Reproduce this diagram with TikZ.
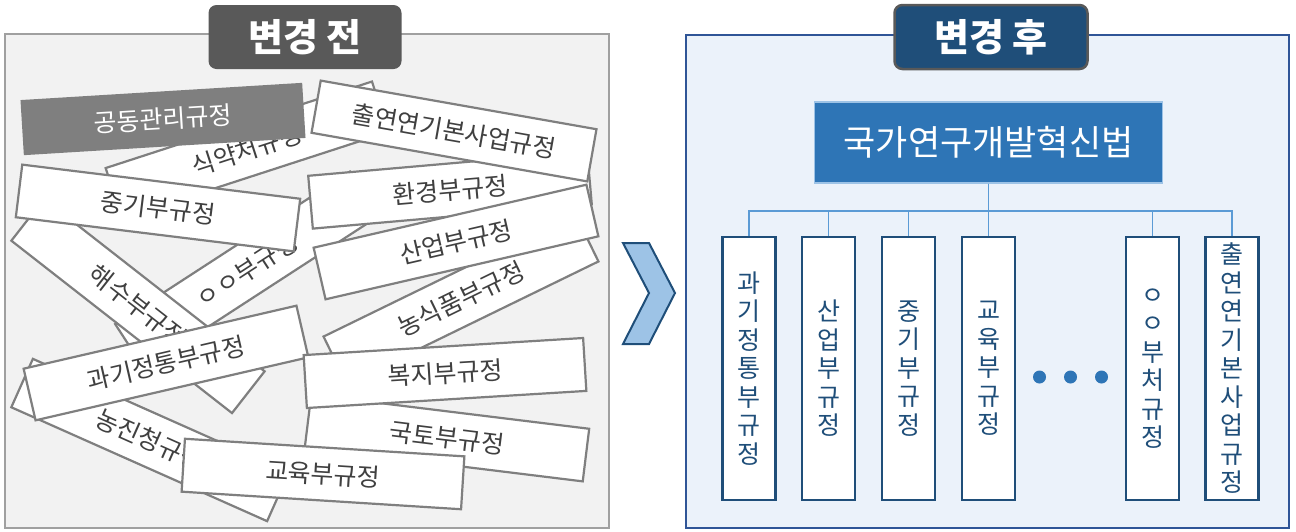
\documentclass[tikz,border=0pt]{standalone}
\usepackage{fontspec}
\setmainfont{Noto Sans CJK KR}
\definecolor{panelgray}{RGB}{242,242,242}
\definecolor{panelline}{RGB}{160,160,160}
\definecolor{pileline}{RGB}{127,127,127}
\definecolor{piletext}{RGB}{64,64,64}
\definecolor{titlegray}{RGB}{89,89,89}
\definecolor{titleblue}{RGB}{31,78,121}
\definecolor{panelblue}{RGB}{235,242,250}
\definecolor{frameblue}{RGB}{47,85,151}
\definecolor{lawblue}{RGB}{46,117,182}
\definecolor{linkblue}{RGB}{91,155,213}
\definecolor{chevblue}{RGB}{157,195,230}

\begin{document}
\begin{tikzpicture}[x=1pt, y=-1pt,
    pilebox/.style={draw=pileline, line width=2.2pt, fill=white, text=piletext, minimum width=280pt, minimum height=53pt, inner sep=0pt, font=\fontsize{25}{29}\selectfont},
    regbox/.style={draw=titleblue, line width=2.5pt, fill=white, text=titleblue, minimum width=53pt, minimum height=263pt, inner sep=0pt, align=center, font=\fontsize{25}{28.5}\selectfont},
    titlebox/.style={rounded corners=8pt, minimum width=193pt, minimum height=64pt, text=white, font=\fontsize{38}{42}\selectfont\bfseries},
    link/.style={linkblue, line width=1.5pt}]
  \useasboundingbox (0,0) rectangle (1296,531);

  % before: a pile of regulations
  \draw[panelline, fill=panelgray, line width=2.5pt] (5,34) rectangle (609,528);
  \node[pilebox, rotate=33] (pre-bucheo) at (247,270) {ㅇㅇ부규정};
  \node[pilebox, rotate=18] (pre-sikyak) at (247,150) {식약처규정};
  \node[pilebox, rotate=26] (pre-nongsik) at (461,299) {농식품부규정};
  \node[pilebox, rotate=-7] (pre-gukto) at (447,438) {국토부규정};
  \node[pilebox, rotate=-24] (pre-nongjin) at (150,440) {농진청규정};
  \node[pilebox, rotate=-38] (pre-haesu) at (138,306) {해수부규정};
  \node[pilebox, rotate=3.5, fill=pileline, text=white] (pre-gongdong) at (163,119) {공동관리규정};
  \node[pilebox, rotate=-7] (pre-junggi) at (158,208) {중기부규정};
  \node[pilebox, rotate=5] (pre-hwangyeong) at (450,190) {환경부규정};
  \node[pilebox, rotate=-10] (pre-chulyeon) at (454,131) {출연연기본사업규정};
  \node[pilebox, rotate=13] (pre-saneop) at (456,242) {산업부규정};
  \node[pilebox, rotate=13] (pre-gwagi) at (166,363) {과기정통부규정};
  \node[pilebox, rotate=3.5] (pre-bokji) at (445,373) {복지부규정};
  \node[pilebox, rotate=-3.6] (pre-gyoyuk) at (323,474) {교육부규정};
  \node[titlebox, fill=titlegray] (pre-title) at (305,37) {변경 전};

  % chevron
  \draw[titleblue, fill=chevblue, line width=2pt] (623,243) -- (649,243) -- (675,293) -- (649,344) -- (623,344) -- (649,293) -- cycle;

  % after: one act
  \draw[frameblue, fill=panelblue, line width=2pt] (686,35) rectangle (1289,528);
  \node[titlebox, fill=titleblue, draw=titlegray, line width=2.5pt] (post-title) at (991,37) {변경 후};
  \node[draw=chevblue, line width=1.5pt, fill=lawblue, text=white, minimum width=348pt, minimum height=81pt, font=\fontsize{35}{40}\selectfont] (law) at (988.5,142.5) {국가연구개발혁신법};
  \node[regbox] (post-gwagi) at (749,368.5) {과\\기\\정\\통\\부\\규\\정};
  \node[regbox] (post-saneop) at (828.5,368.5) {산\\업\\부\\규\\정};
  \node[regbox] (post-junggi) at (908.5,368.5) {중\\기\\부\\규\\정};
  \node[regbox] (post-gyoyuk) at (988.5,368.5) {교\\육\\부\\규\\정};
  \node[regbox] (post-bucheo) at (1152.5,368.5) {ㅇ\\ㅇ\\부\\처\\규\\정};
  \node[regbox] (post-chulyeon) at (1232,368.5) {출\\연\\연\\기\\본\\사\\업\\규\\정};
  \foreach \r in {gwagi,saneop,junggi,gyoyuk,bucheo,chulyeon}
    \draw[link] (law.south) -- ++(0,27) -| (post-\r.north);
  \foreach \i/\x in {1/1039.5,2/1070.5,3/1101.5}
    \node[circle, fill=lawblue, minimum size=13pt, inner sep=0pt] (dot\i) at (\x,377) {};
\end{tikzpicture}
\end{document}
